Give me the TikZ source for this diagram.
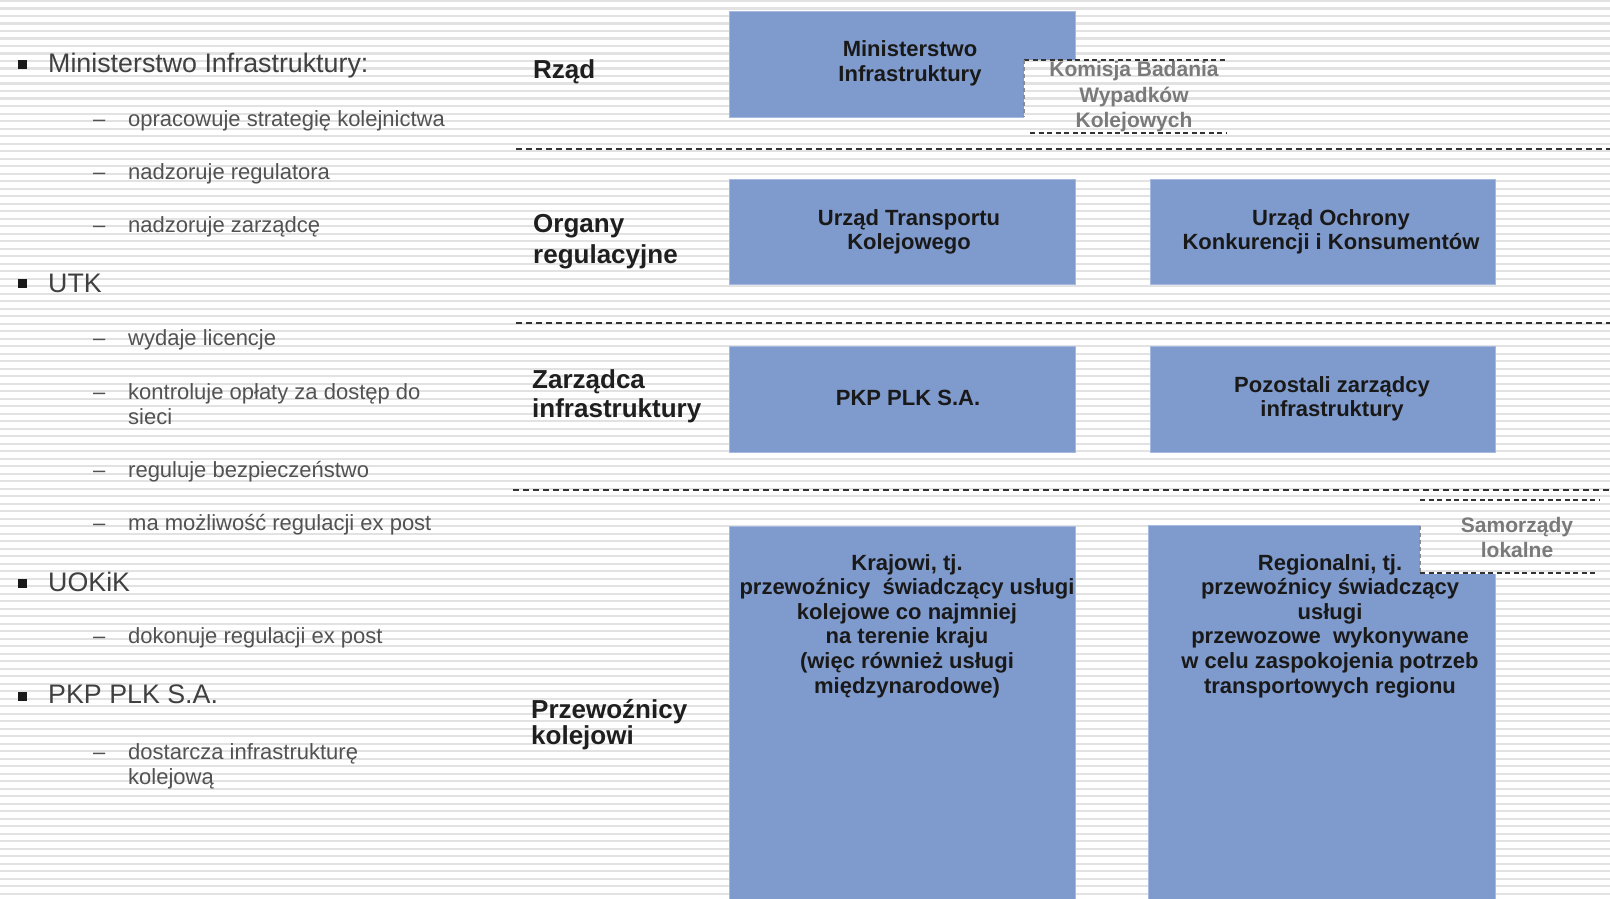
\documentclass[tikz,border=0pt]{standalone}
\usepackage{fontspec}
\setmainfont{Liberation Sans}
\definecolor{boxblue}{RGB}{127,154,204}
\definecolor{boxedge}{RGB}{165,185,225}
\definecolor{stripecol}{RGB}{226,226,226}
\newcommand{\mlc}[1]{\begin{tabular}[t]{@{}c@{}}#1\end{tabular}}
\newcommand{\mll}[1]{\begin{tabular}[t]{@{}l@{}}#1\end{tabular}}
\begin{document}
\begin{tikzpicture}[x=1pt,y=-1pt,
 bluebox/.style={fill=boxblue, draw=boxedge, line width=1.2pt, anchor=north west, inner sep=0pt},
 boxtxt/.style={anchor=base, inner sep=0pt, font=\fontsize{22}{24.6}\selectfont\bfseries, text=black!90},
 sidetxt/.style={anchor=base, inner sep=0pt, font=\fontsize{21}{25.5}\selectfont\bfseries, text=black!52},
 rowlbl/.style={anchor=base west, inner sep=0pt, text=black!88},
 mainitem/.style={anchor=base west, inner sep=0pt, font=\fontsize{26.8}{30}\selectfont, text=black!75},
 subitem/.style={anchor=base west, inner sep=0pt, font=\fontsize{22}{25.5}\selectfont, text=black!68},
 bulletsq/.style={fill=black!90, minimum size=9pt, inner sep=0pt},
 sepline/.style={draw=black!80, line width=1.6pt, dash pattern=on 6pt off 4pt},
 boxdash/.style={draw=black!80, line width=1.6pt, dash pattern=on 5pt off 3.5pt},
 edgedash/.style={draw=black!45, line width=1.4pt, dash pattern=on 4pt off 3pt},
]
\useasboundingbox (0,0) rectangle (1610,899);
\fill[white] (0,0) rectangle (1610,899);
% background stripes
\foreach \i in {0,...,120} {\fill[stripecol] (0,\i*7.5) rectangle (1610,\i*7.5+2.4);}

% separators
\coordinate (s1a) at (516,149); \coordinate (s1b) at (1610,149);
\coordinate (s2a) at (516,323); \coordinate (s2b) at (1610,323);
\coordinate (s3a) at (513,490); \coordinate (s3b) at (1610,490);
\draw[sepline] (s1a) -- (s1b);
\draw[sepline] (s2a) -- (s2b);
\draw[sepline] (s3a) -- (s3b);

% blue boxes
\node[bluebox, minimum width=346pt, minimum height=106pt] (minbox) at (729,11) {};
\node[bluebox, minimum width=346pt, minimum height=105pt] (utkbox) at (729,179) {};
\node[bluebox, minimum width=345pt, minimum height=105pt] (uokbox) at (1150,179) {};
\node[bluebox, minimum width=346pt, minimum height=106pt] (plkbox) at (729,346) {};
\node[bluebox, minimum width=345pt, minimum height=106pt] (pozbox) at (1150,346) {};
\node[bluebox, minimum width=346pt, minimum height=390pt] (krabox) at (729,526) {};
\node[bluebox, minimum width=347pt, minimum height=390pt] (regbox) at (1148,525) {};

% Komisja box
\begin{scope}
\clip (1024,60) rectangle (1228,134);
\fill[white] (1024,60) rectangle (1228,134);
\foreach \i in {7,...,18} {\fill[stripecol] (1000,\i*7.5) rectangle (1240,\i*7.5+2.4);}
\end{scope}
\coordinate (k1) at (1024,60); \coordinate (k2) at (1227,60);
\coordinate (k3) at (1030,133); \coordinate (k4) at (1227,133);
\coordinate (k5) at (1024,117);
\draw[boxdash] (k1) -- (k2);
\draw[boxdash] (k3) -- (k4);
\draw[edgedash] (k1) -- (k5);

% Samorzady box
\begin{scope}
\clip (1420,500) rectangle (1610,574);
\fill[white] (1420,500) rectangle (1610,574);
\foreach \i in {66,...,77} {\fill[stripecol] (1400,\i*7.5) rectangle (1620,\i*7.5+2.4);}
\end{scope}
\coordinate (m1) at (1420,500); \coordinate (m2) at (1600,500);
\coordinate (m3) at (1420,573); \coordinate (m4) at (1597,573);
\coordinate (m5) at (1420,526);
\draw[boxdash] (m1) -- (m2);
\draw[boxdash] (m3) -- (m4);
\draw[edgedash] (m5) -- (m3);

% box texts
\node[boxtxt] (mint) at (910,57) {\mlc{Ministerstwo\\Infrastruktury}};
\node[sidetxt] (komt) at (1134,77) {\mlc{Komisja Badania\\Wypadków\\Kolejowych}};
\node[boxtxt] (utkt) at (909,225) {\mlc{Urząd Transportu\\Kolejowego}};
\node[boxtxt] (uokt) at (1331,225) {\mlc{Urząd Ochrony\\Konkurencji i Konsumentów}};
\node[boxtxt] (plkt) at (908,405) {PKP PLK S.A.};
\node[boxtxt] (pozt) at (1332,392) {\mlc{Pozostali zarządcy\\infrastruktury}};
\node[boxtxt] (krat) at (907,570) {\mlc{Krajowi, tj.\\przewoźnicy\ \ świadczący usługi\\kolejowe co najmniej\\na terenie kraju\\(więc również usługi\\międzynarodowe)}};
\node[boxtxt] (regt) at (1330,570) {\mlc{Regionalni, tj.\\przewoźnicy świadczący\\usługi\\przewozowe\ \ wykonywane\\w celu zaspokojenia potrzeb\\transportowych regionu}};
\node[sidetxt] (samt) at (1517,532) {\mlc{Samorządy\\lokalne}};

% row labels
\node[rowlbl, font=\fontsize{26}{30}\selectfont\bfseries] (rzad) at (533,79) {Rząd};
\node[rowlbl, font=\fontsize{26}{31.5}\selectfont\bfseries] (org) at (533,232) {\mll{Organy\\regulacyjne}};
\node[rowlbl, font=\fontsize{26}{29}\selectfont\bfseries] (zarz) at (532,388) {\mll{Zarządca\\infrastruktury}};
\node[rowlbl, font=\fontsize{26}{24.5}\selectfont\bfseries] (przew) at (531,718) {\mll{Przewoźnicy\\kolejowi}};

% left list
\node[bulletsq] (b1) at (22,65) {};
\node[mainitem] (l1) at (48,73) {Ministerstwo Infrastruktury:};
\node[subitem] (d11) at (93,126) {–};
\node[subitem] (t11) at (128,126) {opracowuje strategię kolejnictwa};
\node[subitem] (d12) at (93,179) {–};
\node[subitem] (t12) at (128,179) {nadzoruje regulatora};
\node[subitem] (d13) at (93,232) {–};
\node[subitem] (t13) at (128,232) {nadzoruje zarządcę};

\node[bulletsq] (b2) at (22,283) {};
\node[mainitem] (l2) at (48,292) {UTK};
\node[subitem] (d21) at (93,345) {–};
\node[subitem] (t21) at (128,345) {wydaje licencje};
\node[subitem] (d22) at (93,399) {–};
\node[subitem] (t22) at (128,399) {\mll{kontroluje opłaty za dostęp do\\sieci}};
\node[subitem] (d23) at (93,477) {–};
\node[subitem] (t23) at (128,477) {reguluje bezpieczeństwo};
\node[subitem] (d24) at (93,530) {–};
\node[subitem] (t24) at (128,530) {ma możliwość regulacji ex post};

\node[bulletsq] (b3) at (22,583) {};
\node[mainitem] (l3) at (48,591) {UOKiK};
\node[subitem] (d31) at (93,643) {–};
\node[subitem] (t31) at (128,643) {dokonuje regulacji ex post};

\node[bulletsq] (b4) at (22,696) {};
\node[mainitem] (l4) at (48,703) {PKP PLK S.A.};
\node[subitem] (d41) at (93,759) {–};
\node[subitem] (t41) at (128,759) {\mll{dostarcza infrastrukturę\\kolejową}};
\end{tikzpicture}
\end{document}
